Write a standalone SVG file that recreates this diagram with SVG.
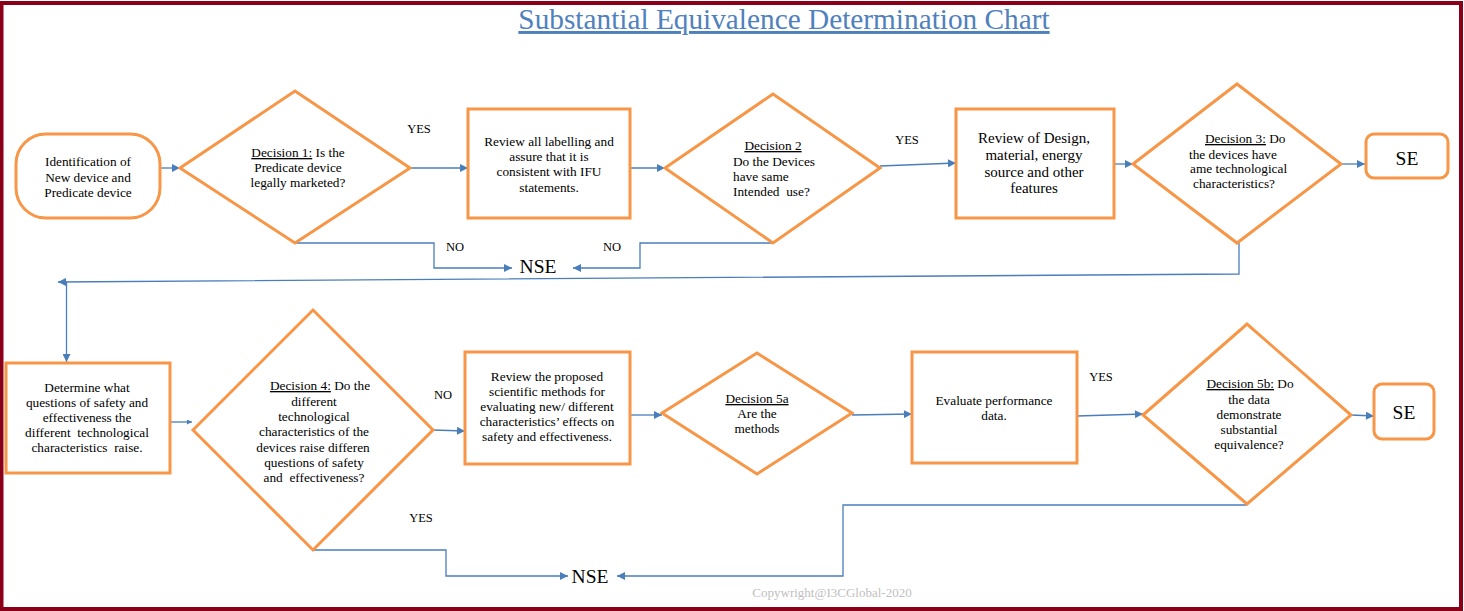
<svg xmlns="http://www.w3.org/2000/svg" width="1464" height="611" viewBox="0 0 1464 611">
<defs>
<marker id="arr" viewBox="0 0 10 10" refX="10" refY="5" markerWidth="9" markerHeight="8" markerUnits="userSpaceOnUse" orient="auto"><path d="M0,0 L10,5 L0,10 z" fill="#4a7ebb"/></marker>
<marker id="arrs" viewBox="0 0 10 10" refX="10" refY="5" markerWidth="6" markerHeight="5" markerUnits="userSpaceOnUse" orient="auto"><path d="M0,0 L10,5 L0,10 z" fill="#4a7ebb"/></marker>
</defs>
<style>
.shape{fill:#ffffff;stroke:#f79646;stroke-width:3;}
.t{font-family:"Liberation Serif","Times New Roman",serif;font-size:13.3px;fill:#000;}
.c{text-anchor:middle;}
.big{font-size:15px;}
.lbl{font-family:"Liberation Serif","Times New Roman",serif;font-size:12.5px;fill:#000;text-anchor:middle;}
.term{font-family:"Liberation Serif","Times New Roman",serif;font-size:19.5px;fill:#000;text-anchor:middle;}
.u{text-decoration:underline;}
.con{fill:none;stroke:#4a7ebb;stroke-width:1.3;}
</style>
<rect x="0" y="0" width="1464" height="611" fill="#ffffff"/>
<rect x="1.5" y="3" width="1459.5" height="606" fill="none" stroke="#8a0019" stroke-width="4"/>
<text x="784" y="29" font-family="'Liberation Serif','Times New Roman',serif" font-size="29.3" fill="#4f81bd" text-anchor="middle" text-decoration="underline">Substantial Equivalence Determination Chart</text>

<g id="connectors">
<line class="con" x1="160" y1="168" x2="180" y2="168" marker-end="url(#arr)"/>
<line class="con" x1="410" y1="168" x2="468" y2="168" marker-end="url(#arr)"/>
<line class="con" x1="630" y1="168" x2="665" y2="168" marker-end="url(#arr)"/>
<line class="con" x1="880" y1="166" x2="956" y2="163" marker-end="url(#arr)"/>
<line class="con" x1="1114" y1="164" x2="1133" y2="164" marker-end="url(#arr)"/>
<line class="con" x1="1341" y1="164" x2="1365" y2="164" marker-end="url(#arr)"/>
<polyline class="con" points="295,243 434,243 434,268 512,268" marker-end="url(#arr)"/>
<polyline class="con" points="773,243 640,243 640,268 573,268" marker-end="url(#arr)"/>
<polyline class="con" points="1239,243 1239,274 58,282" marker-end="url(#arr)"/>
<line class="con" x1="66.5" y1="282" x2="66.5" y2="362" marker-end="url(#arr)"/>
<line class="con" x1="170" y1="422" x2="192" y2="422" marker-end="url(#arrs)"/>
<line class="con" x1="433" y1="430" x2="465" y2="431" marker-end="url(#arr)"/>
<polyline class="con" points="313,550 446,550 446,576 568,576" marker-end="url(#arr)"/>
<line class="con" x1="630" y1="415" x2="662" y2="415" marker-end="url(#arr)"/>
<line class="con" x1="852" y1="415" x2="912" y2="414" marker-end="url(#arr)"/>
<line class="con" x1="1077" y1="416" x2="1143" y2="414" marker-end="url(#arr)"/>
<line class="con" x1="1351" y1="415" x2="1374" y2="416" marker-end="url(#arr)"/>
<polyline class="con" points="1247,505 843,505 843,576 617,576" marker-end="url(#arr)"/>
</g>

<g id="labels">
<text class="lbl" x="419" y="133">YES</text>
<text class="lbl" x="455" y="251">NO</text>
<text class="lbl" x="612" y="251">NO</text>
<text class="lbl" x="907" y="144">YES</text>
<text class="lbl" x="443" y="399">NO</text>
<text class="lbl" x="421" y="522">YES</text>
<text class="lbl" x="1101" y="381">YES</text>
</g>

<g id="start">
<rect class="shape" x="16" y="134" width="144" height="84" rx="30" ry="30"/>
<text class="t c" x="88" y="166">Identification of</text>
<text class="t c" x="88" y="182">New device and</text>
<text class="t c" x="88" y="197">Predicate device</text>
</g>

<g id="decision1">
<polygon class="shape" points="180,168 295,91 410,168 295,243"/>
<text class="t c" x="298" y="157"><tspan class="u">Decision 1:</tspan> Is the</text>
<text class="t c" x="298" y="172">Predicate device</text>
<text class="t c" x="298" y="187">legally marketed?</text>
</g>

<g id="review-labelling">
<rect class="shape" x="468" y="109" width="162" height="109"/>
<text class="t c" x="549" y="146">Review all labelling and</text>
<text class="t c" x="549" y="161">assure that it is</text>
<text class="t c" x="549" y="176">consistent with IFU</text>
<text class="t c" x="549" y="192">statements.</text>
</g>

<g id="decision2">
<polygon class="shape" points="665,168 773,94 880,168 773,243"/>
<text class="t c u" x="773" y="150">Decision 2</text>
<text class="t" x="733" y="166">Do the Devices</text>
<text class="t" x="733" y="181">have same</text>
<text class="t" x="733" y="196" xml:space="preserve">Intended  use?</text>
</g>

<g id="nse1">
<text class="term" x="538" y="273">NSE</text>
</g>

<g id="review-design">
<rect class="shape" x="956" y="109" width="158" height="109"/>
<text class="t c big" x="1034" y="143">Review of Design,</text>
<text class="t c big" x="1034" y="160">material, energy</text>
<text class="t c big" x="1034" y="177">source and other</text>
<text class="t c big" x="1034" y="193">features</text>
</g>

<g id="decision3">
<polygon class="shape" points="1133,164 1237,84 1341,164 1237,243"/>
<text class="t" x="1205" y="143"><tspan class="u">Decision 3:</tspan> Do</text>
<text class="t" x="1189" y="159">the devices have</text>
<text class="t" x="1190" y="173">ame technological</text>
<text class="t c" x="1234" y="188">characteristics?</text>
</g>

<g id="se1">
<rect class="shape" x="1366" y="134" width="82" height="44" rx="8" ry="8"/>
<text class="term" x="1407" y="165">SE</text>
</g>

<g id="determine">
<rect class="shape" x="6" y="363" width="164" height="110"/>
<text class="t c" x="87" y="392">Determine what</text>
<text class="t c" x="87" y="407">questions of safety and</text>
<text class="t c" x="87" y="422">effectiveness the</text>
<text class="t c" x="87" y="437" xml:space="preserve">different  technological</text>
<text class="t c" x="87" y="452" xml:space="preserve">characteristics  raise.</text>
</g>

<g id="decision4">
<polygon class="shape" points="193,430 313,310 433,430 313,550"/>
<text class="t c" x="320" y="390"><tspan class="u">Decision 4:</tspan> Do the</text>
<text class="t c" x="314" y="406">different</text>
<text class="t c" x="314" y="421">technological</text>
<text class="t c" x="314" y="436">characteristics of the</text>
<text class="t c" x="313" y="452">devices raise differen</text>
<text class="t c" x="314" y="467">questions of safety</text>
<text class="t c" x="314" y="482" xml:space="preserve">and  effectiveness?</text>
</g>

<g id="review-methods">
<rect class="shape" x="465" y="352" width="165" height="112"/>
<text class="t c" x="547" y="381">Review the proposed</text>
<text class="t c" x="547" y="396">scientific methods for</text>
<text class="t c" x="547" y="411">evaluating new/ different</text>
<text class="t c" x="547" y="426">characteristics’ effects on</text>
<text class="t c" x="547" y="441">safety and effectiveness.</text>
</g>

<g id="decision5a">
<polygon class="shape" points="662,413 757,353 852,413 757,474"/>
<text class="t c u" x="757" y="403">Decision 5a</text>
<text class="t c" x="757" y="418">Are the</text>
<text class="t c" x="757" y="433">methods</text>
</g>

<g id="evaluate">
<rect class="shape" x="912" y="352" width="165" height="111"/>
<text class="t c" x="994" y="405">Evaluate performance</text>
<text class="t c" x="994" y="420">data.</text>
</g>

<g id="decision5b">
<polygon class="shape" points="1143,415 1247,324 1351,415 1247,504"/>
<text class="t c" x="1250" y="388"><tspan class="u">Decision 5b:</tspan> Do</text>
<text class="t c" x="1249" y="404">the data</text>
<text class="t c" x="1249" y="419">demonstrate</text>
<text class="t c" x="1249" y="434">substantial</text>
<text class="t c" x="1249" y="449">equivalence?</text>
</g>

<g id="se2">
<rect class="shape" x="1374" y="384" width="60" height="55" rx="8" ry="8"/>
<text class="term" x="1404" y="419">SE</text>
</g>

<g id="nse2">
<text class="term" x="590" y="583">NSE</text>
</g>

<text x="832" y="597" font-family="'Liberation Serif','Times New Roman',serif" font-size="13" fill="#c0c0c0" text-anchor="middle">Copywright@I3CGlobal-2020</text>
</svg>
